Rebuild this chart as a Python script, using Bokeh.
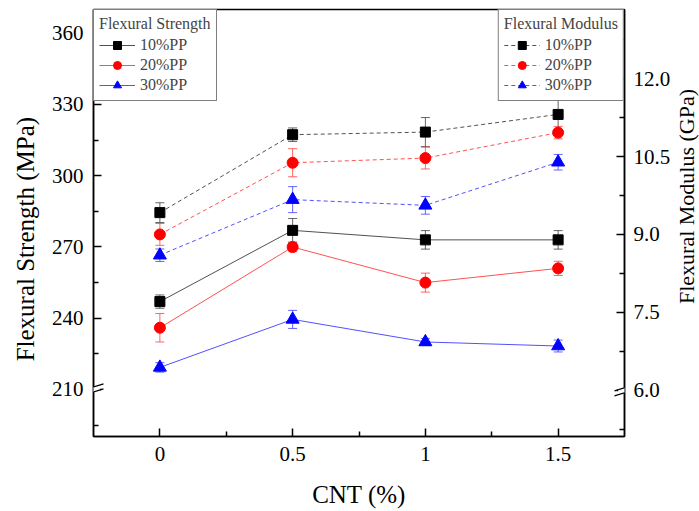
import math
from bokeh.plotting import figure
from bokeh.models import (ColumnDataSource, Range1d, LinearAxis, FixedTicker, Whisker,
                          TeeHead, Legend, LegendItem, Arrow, CustomJSTickFormatter,
                          PrintfTickFormatter, Label)
from bokeh.embed import file_html
from bokeh.resources import INLINE

# ---------------- data ----------------
cnt = [0, 0.5, 1, 1.5]
x_ticks = [0, 0.5, 1, 1.5]
x_tick_labels = ["0", "0.5", "1", "1.5"]
series_labels = ["10%PP", "20%PP", "30%PP"]

strength_10 = [247.0, 277.0, 273.0, 273.0]
strength_10_err = [2.8, 5.0, 3.9, 3.9]
strength_20 = [236.0, 270.0, 255.0, 261.0]
strength_20_err = [6.0, 2.0, 4.0, 3.0]
strength_30 = [219.3, 239.5, 230.0, 228.3]
strength_30_err = [2.0, 3.8, 1.5, 2.5]

modulus_10 = [9.42, 10.92, 10.97, 11.31]
modulus_10_err = [0.19, 0.13, 0.28, 0.30]
modulus_20 = [9.00, 10.38, 10.47, 10.96]
modulus_20_err = [0.21, 0.27, 0.21, 0.12]
modulus_30 = [8.60, 9.67, 9.56, 10.39]
modulus_30_err = [0.12, 0.25, 0.17, 0.15]

strength_ticks = [210, 240, 270, 300, 330, 360]
strength_minor = [195, 225, 255, 285, 315, 345]
modulus_ticks = [6.0, 7.5, 9.0, 10.5, 12.0]
modulus_minor = [5.25, 6.75, 8.25, 9.75, 11.25, 12.75]

# ---------------- figure ----------------
FONT = "Liberation Serif"
X0, X1 = -0.25, 1.75
YS0, YS1 = 190.2, 370.0
YM0, YM1 = 5.11, 13.33

W, H = 699, 511
BL, BR, BT, BB = 93, 75, 9, 75
FW, FH = W - BL - BR, H - BT - BB

p = figure(width=W, height=H, x_range=Range1d(X0, X1), y_range=Range1d(YS0, YS1),
           output_backend="svg", toolbar_location=None,
           min_border_left=BL, min_border_right=BR, min_border_top=BT, min_border_bottom=BB)
p.extra_y_ranges = {"mod": Range1d(YM0, YM1)}
p.xgrid.visible = False
p.ygrid.visible = False
p.outline_line_color = "black"
p.outline_line_width = 1.5
p.background_fill_color = "white"
p.border_fill_color = "white"

def style_axis(ax):
    ax.axis_line_width = 1.5
    ax.axis_line_color = "black"
    ax.major_tick_in = 8
    ax.major_tick_out = 0
    ax.minor_tick_in = 5
    ax.minor_tick_out = 0
    ax.major_tick_line_width = 1.5
    ax.minor_tick_line_width = 1.5
    ax.major_label_text_font = FONT
    ax.major_label_text_font_size = "21px"
    ax.major_label_text_color = "black"
    ax.axis_label_text_font = FONT
    ax.axis_label_text_font_size = "25px"
    ax.axis_label_text_font_style = "normal"
    ax.axis_label_text_color = "black"

xa = p.xaxis[0]
style_axis(xa)
xa.ticker = FixedTicker(ticks=x_ticks, minor_ticks=[0.25, 0.75, 1.25])
xa.formatter = CustomJSTickFormatter(args=dict(lbl=x_tick_labels, xt=x_ticks),
                                     code="const i = xt.indexOf(tick); return i >= 0 ? lbl[i] : String(tick);")
xa.major_label_standoff = 10
xa.axis_label = "CNT (%)"
xa.axis_label_standoff = 17

ya = p.yaxis[0]
style_axis(ya)
ya.ticker = FixedTicker(ticks=strength_ticks, minor_ticks=strength_minor)
ya.major_label_standoff = 10

ra = LinearAxis(y_range_name="mod")
style_axis(ra)
ra.ticker = FixedTicker(ticks=modulus_ticks, minor_ticks=modulus_minor)
ra.formatter = PrintfTickFormatter(format="%.1f")
ra.major_label_standoff = 9
p.add_layout(ra, "right")

# vertical axis titles, reading bottom-to-top, placed in the side panels
upx = (X1 - X0) / FW
p.add_layout(Label(x=X0 - 68 * upx, y=273.3,
                   text="Flexural Strength (MPa)", angle=math.pi / 2,
                   text_align="center", text_baseline="middle",
                   text_font=FONT, text_font_size="25px", text_color="black"), "left")
p.add_layout(Label(x=X1 + 62 * upx, y=9.73, y_range_name="mod",
                   text="Flexural Modulus (GPa)", angle=math.pi / 2,
                   text_align="center", text_baseline="middle",
                   text_font=FONT, text_font_size="22px", text_color="black"), "right")

colors = ["black", "#ff0000", "#0000ff"]
line_colors = ["#333333", "#ff3333", "#3333ff"]
markers = ["square", "circle", "triangle"]
msizes = [10, 11, 13]

def add_series(ys, errs, color, lcolor, marker, msize, dashed, range_name):
    lower = [v - e for v, e in zip(ys, errs)]
    upper = [v + e for v, e in zip(ys, errs)]
    src = ColumnDataSource(dict(x=cnt, y=ys, lower=lower, upper=upper))
    kw = dict(y_range_name=range_name) if range_name else {}
    w = Whisker(base="x", upper="upper", lower="lower", source=src,
                line_color=lcolor, line_alpha=0.75, line_width=1,
                upper_head=TeeHead(size=9, line_color=lcolor, line_alpha=0.75, line_width=1),
                lower_head=TeeHead(size=9, line_color=lcolor, line_alpha=0.75, line_width=1),
                **kw)
    p.add_layout(w)
    ln = p.line("x", "y", source=src, line_color=lcolor, line_width=1, line_alpha=0.85,
                line_dash="4 3" if dashed else "solid", **kw)
    sc = p.scatter("x", "y", source=src, marker=marker, size=msize, fill_color=color,
                   line_color=color, **kw)
    return ln, sc

strength_sets = [(strength_10, strength_10_err), (strength_20, strength_20_err), (strength_30, strength_30_err)]
modulus_sets = [(modulus_10, modulus_10_err), (modulus_20, modulus_20_err), (modulus_30, modulus_30_err)]

items_s, items_m = [], []
for i, (ys, es) in enumerate(strength_sets):
    ln, sc = add_series(ys, es, colors[i], line_colors[i], markers[i], msizes[i], False, None)
    items_s.append(LegendItem(label=series_labels[i], renderers=[ln, sc]))
for i, (ys, es) in enumerate(modulus_sets):
    ln, sc = add_series(ys, es, colors[i], line_colors[i], markers[i], msizes[i], True, "mod")
    items_m.append(LegendItem(label=series_labels[i], renderers=[ln, sc]))

def make_legend(items, title, loc):
    lg = Legend(items=items, title=title, location=loc, margin=0, padding=5,
                spacing=0, glyph_width=36, glyph_height=20, label_height=20,
                label_standoff=5, title_standoff=2,
                border_line_color="black", border_line_width=1.2,
                background_fill_color="white", background_fill_alpha=1.0,
                label_text_font=FONT, label_text_font_size="16px",
                title_text_font=FONT, title_text_font_size="16px",
                title_text_font_style="normal")
    return lg

p.add_layout(make_legend(items_s, "Flexural Strength", "top_left"))
p.add_layout(make_legend(items_m, "Flexural Modulus", "top_right"))

# ---------------- axis break marks ----------------
def break_marks(xc, yc, y0, y1, range_name):
    upy = (y1 - y0) / FH
    hx = 10 * upx
    hy = 3 * upy
    gap = 2.5 * upy
    kw = dict(y_range_name=range_name) if range_name else {}
    p.add_layout(Arrow(x_start=xc - hx * 0.6, y_start=yc - hy * 0.6, x_end=xc + hx * 0.6, y_end=yc + hy * 0.6,
                       start=None, end=None, line_color="white", line_width=5, **kw))
    for s in (-1, 1):
        p.add_layout(Arrow(x_start=xc - hx, y_start=yc - hy + s * gap, x_end=xc + hx, y_end=yc + hy + s * gap,
                           start=None, end=None, line_color="black", line_width=1.3, **kw))

break_marks(X0, 210, YS0, YS1, None)
break_marks(X1, 6.0, YM0, YM1, "mod")

open("out.html", "w").write(file_html(p, INLINE))
